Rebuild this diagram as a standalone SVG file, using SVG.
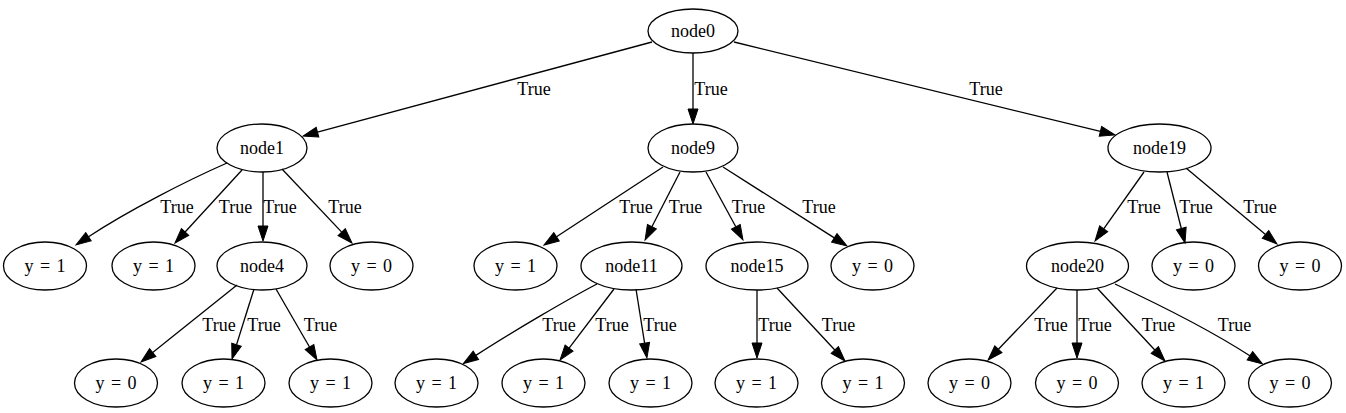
<svg xmlns="http://www.w3.org/2000/svg" width="1346" height="413" viewBox="0 0 1346 413">
<style>
.n ellipse{fill:none;stroke:#000;stroke-width:1.3}
.n text{font-family:"Liberation Serif","Times New Roman",serif;font-size:18px;text-anchor:middle;fill:#000}
.n text.v{word-spacing:2px}
#edges path{fill:none;stroke:#000;stroke-width:1.3;marker-end:url(#ah)}
#edges text{font-family:"Liberation Serif","Times New Roman",serif;font-size:18px;text-anchor:middle;fill:#000}
</style>
<defs>
<marker id="ah" markerUnits="userSpaceOnUse" viewBox="0 0 15 10" markerWidth="15" markerHeight="10" refX="0" refY="5" orient="auto" overflow="visible">
<path d="M0,0 L15,5 L0,10 z" fill="#000" stroke="#000" stroke-width="1"/>
</marker>
</defs>
<rect width="1346" height="413" fill="#fff"/>
<g id="edges">
<path d="M652,42 L317.5,132.1"/><text x="534" y="95">True</text>
<path d="M693,53 L693,109"/><text x="711" y="95">True</text>
<path d="M734,42 L1100.4,131.4"/><text x="986" y="95">True</text>
<path d="M227,163 C187,180.6 128.5,210.3 88.5,236.7"/><text x="177" y="213">True</text>
<path d="M242,170 L185.1,232"/><text x="235.5" y="213">True</text>
<path d="M263,172 L263,226"/><text x="280" y="213">True</text>
<path d="M282,169 L341.7,232.1"/><text x="345" y="213">True</text>
<path d="M663,167 L556.5,236.8"/><text x="636" y="213">True</text>
<path d="M680,172 L651.9,226.7"/><text x="685.5" y="213">True</text>
<path d="M706,172 L735.8,226.8"/><text x="748.5" y="213">True</text>
<path d="M723,167 L834.3,237.9"/><text x="819" y="213">True</text>
<path d="M1144,172 L1103.7,228.8"/><text x="1144" y="213">True</text>
<path d="M1167,172 L1181.3,228.5"/><text x="1196" y="213">True</text>
<path d="M1186,168 L1265.5,234.4"/><text x="1260" y="213">True</text>
<path d="M237,285 L152.7,352.6"/><text x="219" y="331">True</text>
<path d="M254,289 L236.5,344.7"/><text x="264" y="331">True</text>
<path d="M276,289 L309.5,347"/><text x="320.5" y="331">True</text>
<path d="M597,284 C570,298 512,332 475.9,355.4"/><text x="559" y="331">True</text>
<path d="M614,289 L569.1,348.1"/><text x="612" y="331">True</text>
<path d="M636,289 L644.6,343.2"/><text x="660" y="331">True</text>
<path d="M757,290 L757,343"/><text x="775" y="331">True</text>
<path d="M777,288 L834.8,350"/><text x="838.5" y="331">True</text>
<path d="M1057,288 L998.4,349.2"/><text x="1051" y="331">True</text>
<path d="M1077,290 L1077,343"/><text x="1095" y="331">True</text>
<path d="M1097,288 L1154.8,350"/><text x="1158.5" y="331">True</text>
<path d="M1115,284 C1145,298 1207,328 1249.9,355.8"/><text x="1234.5" y="331">True</text>
</g>
<g id="node0" class="n"><ellipse cx="693" cy="31" rx="45" ry="22"/><text x="693" y="37">node0</text></g>
<g id="node1" class="n"><ellipse cx="262" cy="148" rx="45" ry="24"/><text x="262" y="154">node1</text></g>
<g id="node9" class="n"><ellipse cx="693" cy="148" rx="45" ry="24"/><text x="693" y="154">node9</text></g>
<g id="node19" class="n"><ellipse cx="1159.5" cy="148" rx="51.5" ry="24"/><text x="1159.5" y="154">node19</text></g>
<g id="leaf2" class="n"><ellipse cx="45" cy="266" rx="41.5" ry="24"/><text class="v" x="45" y="272">y = 1</text></g>
<g id="leaf3" class="n"><ellipse cx="153.5" cy="266" rx="41.5" ry="24"/><text class="v" x="153.5" y="272">y = 1</text></g>
<g id="node4" class="n"><ellipse cx="262" cy="266" rx="45" ry="24"/><text x="262" y="272">node4</text></g>
<g id="leaf8" class="n"><ellipse cx="371.5" cy="266" rx="41.5" ry="24"/><text class="v" x="371.5" y="272">y = 0</text></g>
<g id="leaf10" class="n"><ellipse cx="515.5" cy="266" rx="41.5" ry="24"/><text class="v" x="515.5" y="272">y = 1</text></g>
<g id="node11" class="n"><ellipse cx="631.5" cy="266" rx="50.5" ry="24"/><text x="631.5" y="272">node11</text></g>
<g id="node15" class="n"><ellipse cx="757" cy="266" rx="51" ry="24"/><text x="757" y="272">node15</text></g>
<g id="leaf18" class="n"><ellipse cx="872.5" cy="266" rx="41.5" ry="24"/><text class="v" x="872.5" y="272">y = 0</text></g>
<g id="node20" class="n"><ellipse cx="1077.5" cy="266" rx="51" ry="24"/><text x="1077.5" y="272">node20</text></g>
<g id="leaf25" class="n"><ellipse cx="1193.5" cy="266" rx="41.5" ry="24"/><text class="v" x="1193.5" y="272">y = 0</text></g>
<g id="leaf26" class="n"><ellipse cx="1300" cy="266" rx="41.5" ry="24"/><text class="v" x="1300" y="272">y = 0</text></g>
<g id="leaf5" class="n"><ellipse cx="116" cy="383" rx="41.5" ry="24"/><text class="v" x="116" y="389">y = 0</text></g>
<g id="leaf6" class="n"><ellipse cx="223.5" cy="383" rx="41.5" ry="24"/><text class="v" x="223.5" y="389">y = 1</text></g>
<g id="leaf7" class="n"><ellipse cx="330.5" cy="383" rx="41.5" ry="24"/><text class="v" x="330.5" y="389">y = 1</text></g>
<g id="leaf12" class="n"><ellipse cx="436.5" cy="383" rx="41.5" ry="24"/><text class="v" x="436.5" y="389">y = 1</text></g>
<g id="leaf13" class="n"><ellipse cx="543.5" cy="383" rx="41.5" ry="24"/><text class="v" x="543.5" y="389">y = 1</text></g>
<g id="leaf14" class="n"><ellipse cx="650.5" cy="383" rx="41.5" ry="24"/><text class="v" x="650.5" y="389">y = 1</text></g>
<g id="leaf16" class="n"><ellipse cx="756.5" cy="383" rx="41.5" ry="24"/><text class="v" x="756.5" y="389">y = 1</text></g>
<g id="leaf17" class="n"><ellipse cx="863" cy="383" rx="41.5" ry="24"/><text class="v" x="863" y="389">y = 1</text></g>
<g id="leaf21" class="n"><ellipse cx="969.5" cy="383" rx="41.5" ry="24"/><text class="v" x="969.5" y="389">y = 0</text></g>
<g id="leaf22" class="n"><ellipse cx="1077" cy="383" rx="41.5" ry="24"/><text class="v" x="1077" y="389">y = 0</text></g>
<g id="leaf23" class="n"><ellipse cx="1183.5" cy="383" rx="41.5" ry="24"/><text class="v" x="1183.5" y="389">y = 1</text></g>
<g id="leaf24" class="n"><ellipse cx="1290" cy="383" rx="41.5" ry="24"/><text class="v" x="1290" y="389">y = 0</text></g>
</svg>
